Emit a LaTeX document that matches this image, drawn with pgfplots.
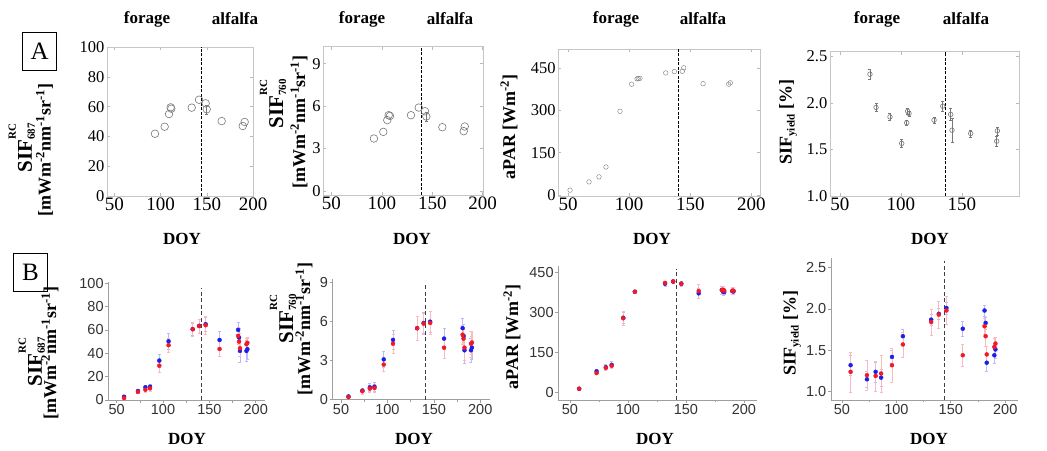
\documentclass[border=0pt]{standalone}
\usepackage{fontspec}
\setmainfont{Liberation Serif}
\newfontfamily\arial{Liberation Sans}
\usepackage{pgfplots}
\pgfplotsset{compat=1.18}
\definecolor{bblue}{RGB}{30,30,235}
\definecolor{rred}{RGB}{240,25,40}
\definecolor{agray}{RGB}{120,120,120}
\pgfplotsset{
 Abase/.style={scale only axis, anchor=south west,
   axis line style={gray!45}, tick style={gray!55, line width=0.5pt},
   major tick length=3pt, tick align=inside,
   /pgf/number format/assume math mode=true,
   xtick={50,100,150,200},
   xticklabel style={font=\fontsize{19}{19}\selectfont, inner sep=2pt},
   yticklabel style={font=\fontsize{16.5}{16.5}\selectfont, inner sep=2.5pt}},
 Bbase/.style={scale only axis, anchor=south west,
   axis x line*=bottom, axis y line*=left,
   axis line style={-, gray!75, line width=0.8pt},
   tick style={gray!75, line width=0.6pt},
   major tick length=3pt, minor tick length=2.5pt, tick align=outside,
   /pgf/number format/assume math mode=true,
   xtick={50,100,150,200}, minor xtick={75,125,175},
   ticklabel style={font=\arial\fontsize{14.5}{14.5}\selectfont, text=black!80},
   xticklabel style={inner sep=1.5pt}, yticklabel style={inner sep=1.5pt}},
 Amark/.style={only marks, mark=o, agray, mark options={line width=0.6pt}},
 Aerr/.style={only marks, mark=o, agray, mark options={line width=0.6pt},
   error bars/y dir=both, error bars/y explicit,
   error bars/error bar style={agray, line width=0.5pt},
   error bars/error mark options={rotate=90, mark size=1.5pt, agray}},
 Bblue/.style={only marks, mark=*, bblue, mark size=2pt,
   error bars/y dir=both, error bars/y explicit,
   error bars/error bar style={bblue!30, line width=0.7pt},
   error bars/error mark options={rotate=90, mark size=1.5pt, bblue!30}},
 Bred/.style={only marks, mark=*, rred, mark size=2pt,
   error bars/y dir=both, error bars/y explicit,
   error bars/error bar style={rred!30, line width=0.7pt},
   error bars/error mark options={rotate=90, mark size=1.5pt, rred!30}},
}
\newcommand\SIFrc[1]{SIF\rlap{\raisebox{16pt}{\fontsize{11}{11}\selectfont RC}}\raisebox{-3pt}{\fontsize{11}{11}\selectfont #1}}
\newcommand\units{[mWm\textsuperscript{-2}nm\textsuperscript{-1}sr\textsuperscript{-1}]}
\newcommand\SIFy{SIF\raisebox{-3pt}{\fontsize{11}{11}\selectfont yield} [\%]}
\begin{document}
\begin{tikzpicture}
\path[use as bounding box] (0pt,0pt) rectangle (1047pt,450pt);

% ---------------- Row A ----------------
\begin{axis}[Abase, at={(107pt,254pt)}, width=146pt, height=149pt,
  xmin=42, xmax=200, ymin=0, ymax=100, ytick={0,20,40,60,80,100}]
\addplot[Amark, mark size=3.8pt] coordinates {
 (93.9,41.8) (104.4,46.5) (109.1,55.0) (110.9,59.5) (111.6,58.6) (133.7,59.3)
 (141.6,64.6) (148.8,62.2) (166.1,50.3) (188.9,47.0) (191.0,49.7)};
\addplot[Aerr, mark size=3.8pt] coordinates {(149.9,58.2) +- (0,3)};
\addplot[forget plot, black, line width=0.8pt, dash pattern=on 3pt off 1.5pt] coordinates {(144.5,0) (144.5,100)};
\end{axis}

\begin{axis}[Abase, at={(323.3pt,255pt)}, width=159.4pt, height=148.3pt,
  xmin=42, xmax=200, ymin=-0.3, ymax=10.2, ytick={0,3,6,9}]
\addplot[Amark, mark size=3.8pt] coordinates {
 (92.2,3.70) (101.5,4.17) (105.4,5.00) (106.8,5.35) (108.1,5.30) (128.9,5.35)
 (136.6,5.89) (142.8,5.63) (160.0,4.50) (181.2,4.22) (182.2,4.55)};
\addplot[Aerr, mark size=3.8pt] coordinates {(144.1,5.26) +- (0,0.3)};
\addplot[forget plot, black, line width=0.8pt, dash pattern=on 3pt off 1.5pt] coordinates {(139.5,-0.3) (139.5,10.2)};
\end{axis}

\begin{axis}[Abase, at={(558.3pt,254pt)}, width=201.7pt, height=146.7pt,
  xmin=42, xmax=207, ymin=-4, ymax=517, ytick={0,150,300,450}]
\addplot[Amark, mark size=2.3pt, mark options={fill=gray!25}] coordinates {
 (51.6,16.7) (67.1,46) (75.3,64) (81,99) (92.5,297) (102,393) (106.4,412) (107.4,413)
 (108.8,414) (129.9,433) (136.9,438) (143.4,439) (144.6,451) (160.4,395) (181.4,393) (182.7,398)};
\addplot[forget plot, black, line width=0.8pt, dash pattern=on 3pt off 1.5pt] coordinates {(140.2,-4) (140.2,517)};
\end{axis}

\begin{axis}[Abase, at={(830pt,254pt)}, width=189.3pt, height=144.3pt,
  xmin=42, xmax=197, ymin=1.0, ymax=2.55, ytick={1.0,1.5,2.0,2.5},
  yticklabel style={/pgf/number format/.cd, fixed, fixed zerofill, precision=1}]
\addplot[Aerr, mark size=2.3pt] coordinates {
 (74.7,2.308) +- (0,0.054) (79.7,1.951) +- (0,0.043) (91.1,1.850) +- (0,0.036)
 (100.7,1.565) +- (0,0.043) (104.8,1.786) +- (0,0.029) (105.6,1.911) +- (0,0.029)
 (106.7,1.886) +- (0,0.029) (127.2,1.815) +- (0,0.036) (134.3,1.965) +- (0,0.054)
 (140.8,1.876) +- (0,0.064) (141.9,1.707) +- (0,0.125) (157.2,1.672) +- (0,0.036)
 (178.5,1.589) +- (0,0.054) (179,1.700) +- (0,0.043)};
\addplot[forget plot, black, line width=0.8pt, dash pattern=on 3pt off 1.5pt] coordinates {(136.6,1.0) (136.6,2.55)};
\end{axis}

% ---------------- Row B ----------------
\begin{axis}[Bbase, at={(108.3pt,50pt)}, width=156.7pt, height=118pt,
  xmin=41, xmax=210, ymin=0, ymax=101, ytick={0,20,40,60,80,100}]
\addplot[forget plot, black!75, line width=0.8pt, dash pattern=on 4pt off 2.5pt] coordinates {(141,0) (141,96)};
\addplot[Bblue] coordinates {
 (58,2.8) +- (0,1.5) (73,7.7) +- (0,1.5) (81,10.9) +- (0,2) (86,11.4) +- (0,2.5)
 (96,33.7) +- (0,5.5) (106,50.3) +- (0,7) (132,60.6) +- (0,5) (139,63.4) +- (0,6)
 (146,64.9) +- (0,6) (161,51.4) +- (0,7.5) (181,60) +- (0,7) (182,53.4) +- (0,8)
 (183,42) +- (0,10) (190,42) +- (0,9) (191,43.5) +- (0,9)};
\addplot[Bred] coordinates {
 (58,1.7) +- (0,1) (73,6.9) +- (0,1.5) (81,8.8) +- (0,2) (86,10) +- (0,2.5)
 (96,29.4) +- (0,6) (106,46.9) +- (0,6) (132,60.6) +- (0,6) (139,63.4) +- (0,6)
 (146,64) +- (0,8) (161,43.7) +- (0,6.5) (181,54.9) +- (0,7) (182,50) +- (0,7)
 (183,44.3) +- (0,7) (190,47.7) +- (0,5) (191,49) +- (0,5)};
\end{axis}

\begin{axis}[Bbase, at={(332.7pt,50.3pt)}, width=157.3pt, height=120.4pt,
  xmin=41, xmax=210.5, ymin=0, ymax=9.26, ytick={0,3,6,9}]
\addplot[forget plot, black!75, line width=0.8pt, dash pattern=on 4pt off 2.5pt] coordinates {(141.4,0) (141.4,8.8)};
\addplot[Bblue] coordinates {
 (58,0.25) +- (0,0.1) (73,0.7) +- (0,0.15) (81,0.95) +- (0,0.3) (86,1.0) +- (0,0.35)
 (96,3.1) +- (0,0.6) (106,4.6) +- (0,0.75) (132,5.5) +- (0,0.9) (139,5.9) +- (0,0.8)
 (146,6.0) +- (0,0.8) (161,4.7) +- (0,0.8) (181,5.5) +- (0,0.8) (182,4.9) +- (0,0.9)
 (183,3.8) +- (0,1.0) (190,3.8) +- (0,0.9) (191,4.0) +- (0,0.9)};
\addplot[Bred] coordinates {
 (58,0.2) +- (0,0.1) (73,0.65) +- (0,0.2) (81,0.85) +- (0,0.3) (86,0.9) +- (0,0.3)
 (96,2.7) +- (0,0.5) (106,4.3) +- (0,0.7) (132,5.5) +- (0,0.95) (139,5.85) +- (0,0.8)
 (146,5.9) +- (0,0.9) (161,4.0) +- (0,0.8) (181,5.0) +- (0,0.7) (182,4.7) +- (0,0.7)
 (183,4.0) +- (0,1.0) (190,4.3) +- (0,1.0) (191,4.4) +- (0,0.9)};
\end{axis}

\begin{axis}[Bbase, at={(558.3pt,50pt)}, width=198.4pt, height=134pt,
  xmin=40, xmax=211, ymin=-27, ymax=473, ytick={0,150,300,450}]
\addplot[forget plot, black!75, line width=0.8pt, dash pattern=on 4pt off 2.5pt] coordinates {(142.2,-27) (142.2,460)};
\addplot[Bblue] coordinates {
 (58,15) +- (0,3) (73,80) +- (0,8) (81,95) +- (0,10) (86,104) +- (0,12)
 (96,280) +- (0,20) (106,377) +- (0,5) (132,407) +- (0,8) (139,415) +- (0,5)
 (146,407) +- (0,8) (161,371) +- (0,20) (181,384) +- (0,15) (182,377) +- (0,12)
 (183,376) +- (0,10) (190,379) +- (0,12) (191,378) +- (0,10)};
\addplot[Bred] coordinates {
 (58,15) +- (0,3) (73,73.5) +- (0,6) (81,93) +- (0,10) (86,100.7) +- (0,8)
 (96,278) +- (0,25) (106,377) +- (0,5) (132,410) +- (0,5) (139,415.6) +- (0,5)
 (146,407) +- (0,7) (161,379.5) +- (0,25) (181,383) +- (0,15) (182,384) +- (0,12)
 (183,381) +- (0,10) (190,380.6) +- (0,12) (191,381) +- (0,12)};
\end{axis}

\begin{axis}[Bbase, at={(831pt,50pt)}, width=187.3pt, height=141.7pt,
  xmin=40, xmax=212, ymin=0.9, ymax=2.61, ytick={1.0,1.5,2.0,2.5},
  yticklabel style={/pgf/number format/.cd, fixed, fixed zerofill, precision=1}]
\addplot[forget plot, black!75, line width=0.8pt, dash pattern=on 4pt off 2.5pt] coordinates {(144,0.9) (144,2.58)};
\addplot[Bblue] coordinates {
 (58,1.32) +- (0,0.12) (73,1.15) +- (0,0.10) (81,1.24) +- (0,0.12) (86,1.17) +- (0,0.10)
 (96,1.42) +- (0,0.08) (106,1.67) +- (0,0.08) (132,1.87) +- (0,0.07) (139,1.94) +- (0,0.07)
 (146,2.01) +- (0,0.07) (161,1.76) +- (0,0.09) (181,1.98) +- (0,0.07) (182,1.83) +- (0,0.07)
 (183,1.35) +- (0,0.10) (190,1.44) +- (0,0.10) (191,1.51) +- (0,0.10)};
\addplot[Bred] coordinates {
 (58,1.24) +- (0,0.24) (73,1.20) +- (0,0.18) (81,1.19) +- (0,0.18) (86,1.22) +- (0,0.22)
 (96,1.32) +- (0,0.20) (106,1.57) +- (0,0.15) (132,1.84) +- (0,0.16) (139,1.93) +- (0,0.16)
 (146,1.98) +- (0,0.17) (161,1.44) +- (0,0.13) (181,1.79) +- (0,0.10) (182,1.67) +- (0,0.12)
 (183,1.45) +- (0,0.10) (190,1.54) +- (0,0.10) (191,1.58) +- (0,0.08)};
\end{axis}

% ---------------- Text ----------------
\begin{scope}[every node/.style={font=\bfseries\fontsize{17}{17}\selectfont, inner sep=0pt}]
\node at (147pt,431pt) {forage}; \node at (235pt,431pt) {alfalfa};
\node at (362pt,431pt) {forage}; \node at (450pt,431pt) {alfalfa};
\node at (616pt,431pt) {forage}; \node at (703pt,431pt) {alfalfa};
\node at (877pt,431pt) {forage}; \node at (966pt,431pt) {alfalfa};
\node at (182pt,211pt) {DOY}; \node at (412pt,211pt) {DOY};
\node at (652pt,211pt) {DOY}; \node at (930pt,211pt) {DOY};
\node at (187pt,11pt) {DOY}; \node at (414pt,11pt) {DOY};
\node at (655pt,11pt) {DOY}; \node at (929pt,11pt) {DOY};
\end{scope}

\node[draw, line width=0.9pt, minimum width=34pt, minimum height=38pt, inner sep=0pt,
  font=\fontsize{25}{25}\selectfont] at (39.7pt,398.5pt) {A};
\node[draw, line width=0.9pt, minimum width=34pt, minimum height=38pt, inner sep=0pt,
  font=\fontsize{25}{25}\selectfont] at (30.5pt,177.5pt) {B};

\begin{scope}[every node/.style={rotate=90, inner sep=0pt}]
\node[font=\bfseries\fontsize{21}{21}\selectfont] at (21.8pt,302pt) {\SIFrc{687}};
\node[font=\bfseries\fontsize{18}{18}\selectfont] at (44.5pt,300pt) {\units};
\node[font=\bfseries\fontsize{21}{21}\selectfont] at (273pt,346pt) {\SIFrc{760}};
\node[font=\bfseries\fontsize{18}{18}\selectfont] at (299pt,328.3pt) {\units};
\node[font=\bfseries\fontsize{18}{18}\selectfont] at (509pt,323pt) {aPAR [Wm\textsuperscript{-2}]};
\node[font=\bfseries\fontsize{18}{18}\selectfont] at (788pt,328pt) {\SIFy};
\node[font=\bfseries\fontsize{21}{21}\selectfont] at (31.8pt,88pt) {\SIFrc{687}};
\node[font=\bfseries\fontsize{18}{18}\selectfont] at (50pt,97pt) {\units};
\node[font=\bfseries\fontsize{21}{21}\selectfont] at (283pt,131pt) {\SIFrc{760}};
\node[font=\bfseries\fontsize{18}{18}\selectfont] at (304pt,121pt) {\units};
\node[font=\bfseries\fontsize{18}{18}\selectfont] at (512pt,113pt) {aPAR [Wm\textsuperscript{-2}]};
\node[font=\bfseries\fontsize{18}{18}\selectfont] at (792pt,117pt) {\SIFy};
\end{scope}
\end{tikzpicture}
\end{document}
